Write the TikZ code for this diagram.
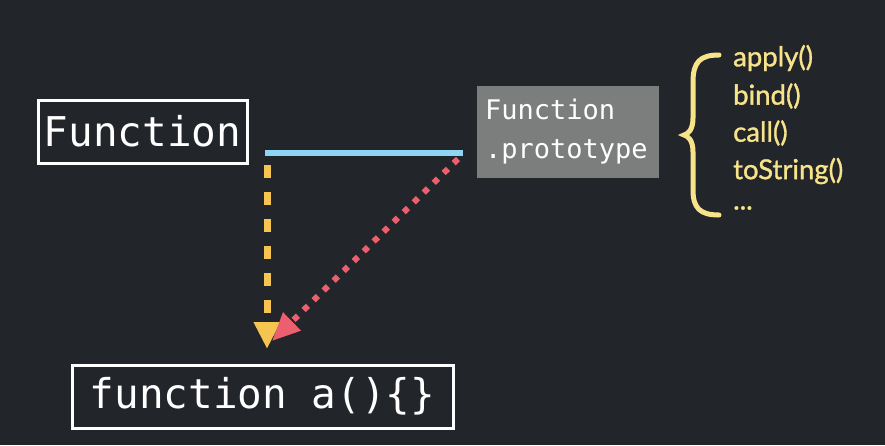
\documentclass[tikz,border=0pt]{standalone}
\usepackage{fontspec}
\setmainfont{Lato}
\newfontfamily\codefont{DejaVu Sans Mono}
\newfontfamily\listfont[FakeBold=1.2]{Lato}
\usetikzlibrary{arrows.meta}
\definecolor{bgc}{HTML}{22252A}
\definecolor{boxgray}{HTML}{7B7E7C}
\definecolor{lineblue}{HTML}{8DD5F2}
\definecolor{ylw}{HTML}{F6C450}
\definecolor{pinkred}{HTML}{EC5F6E}
\definecolor{listylw}{HTML}{F7E38A}
\tikzset{
  codebox/.style={draw=white, line width=3pt, text=white, inner sep=0pt,
    font=\codefont\fontsize{41}{46}\selectfont},
  protobox/.style={fill=boxgray, text=white, inner sep=0pt, align=left,
    font=\codefont\fontsize{27}{39}\selectfont},
  listitem/.style={text=listylw, anchor=west, inner sep=0pt,
    font=\listfont\fontsize{27.5}{30}\selectfont},
}
\begin{document}
\begin{tikzpicture}[x=1pt,y=-1pt]
\fill[bgc] (0,0) rectangle (885,445);
\useasboundingbox (0,0) rectangle (885,445);

\node[codebox, minimum width=209pt, minimum height=63pt] (fn) at (142.5,131.5) {Function};
\node[protobox, minimum width=182pt, minimum height=92pt, text width=166pt] (proto) at (568,132) {Function\\.prototype};
\node[codebox, minimum width=381pt, minimum height=63pt] (fa) at (262.5,396.5) {function a()\{\}};

\node[listitem] (l1) at (733,58) {apply()};
\node[listitem] (l2) at (733,96) {bind()};
\node[listitem] (l3) at (733,133) {call()};
\node[listitem] (l4) at (733,171) {toString()};
\node[listitem] (l5) at (733,208) {...};

% brace
\draw[listylw, line width=5pt, line cap=round]
  (719,55) .. controls (700,55) and (693,62) .. (693,82)
  -- (693,118) .. controls (693,130) and (688,134) .. (684,135)
  .. controls (688,136) and (693,140) .. (693,152)
  -- (693,190) .. controls (693,208) and (700,215) .. (719,215);

\coordinate (b1) at (265,153);
\coordinate (b2) at (463,153);
\draw[lineblue, line width=6pt] (b1) -- (b2);

\coordinate (y1) at (267,165);
\coordinate (y2) at (267,349);
\draw[ylw, line width=7pt, dash pattern=on 13pt off 14pt,
  -{Triangle[width=25pt,length=27pt]}] (y1) -- (y2);

\coordinate (r1) at (458,159);
\coordinate (r2) at (272,341);
\draw[pinkred, line width=6pt, dash pattern=on 6pt off 8pt,
  -{Triangle[width=24pt,length=28pt]}] (r1) -- (r2);
\end{tikzpicture}
\end{document}
